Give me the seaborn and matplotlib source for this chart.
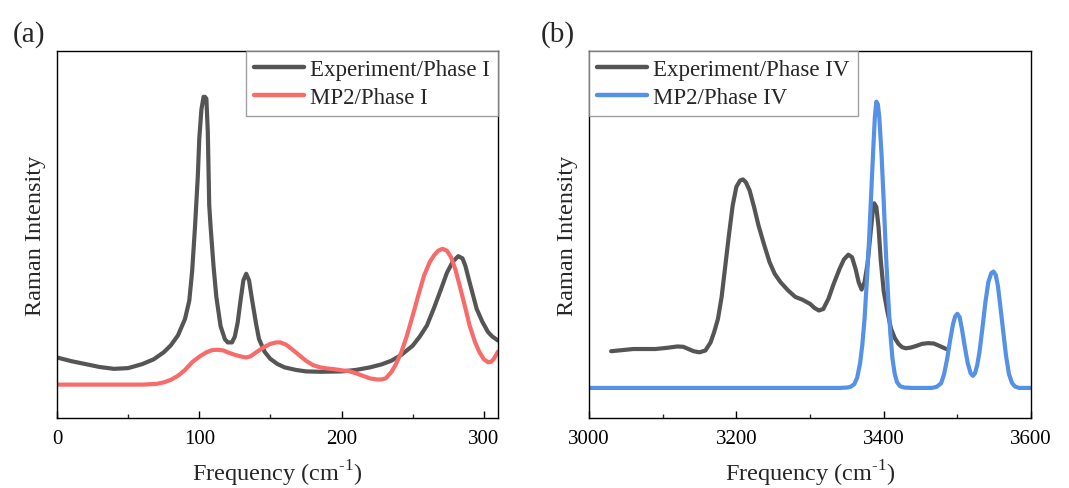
import numpy as np
import pandas as pd
import matplotlib
matplotlib.use("Agg")
import matplotlib.pyplot as plt
import seaborn as sns

# ---------------- data (arbitrary intensity units) -------------
# Panel (a): Phase I, low frequency
exp1_freq = [0, 10, 20, 30, 40, 50, 60, 68, 75, 80, 85, 90, 93, 95, 97, 99, 100, 101.5, 103, 104, 105,
             106, 107, 108, 110, 112, 115, 118, 120, 123, 125, 127, 129, 131, 133, 135, 137, 140, 142,
             146, 150, 155, 160, 168, 175, 185, 200, 210, 220, 228, 235, 242, 250, 255, 260, 265, 270,
             274, 278, 282, 285, 287, 290, 295, 299, 303, 306, 310]
exp1_int = [0.165, 0.155, 0.147, 0.139, 0.134, 0.136, 0.147, 0.160, 0.179, 0.198, 0.225, 0.27, 0.32,
            0.40, 0.52, 0.66, 0.76, 0.84, 0.875, 0.875, 0.87, 0.78, 0.58, 0.52, 0.415, 0.33, 0.25, 0.215,
            0.206, 0.206, 0.222, 0.26, 0.32, 0.375, 0.393, 0.375, 0.325, 0.255, 0.215, 0.18, 0.161, 0.147,
            0.138, 0.131, 0.127, 0.126, 0.127, 0.131, 0.138, 0.146, 0.156, 0.172, 0.197, 0.222, 0.252,
            0.30, 0.352, 0.395, 0.425, 0.441, 0.435, 0.415, 0.37, 0.297, 0.262, 0.234, 0.222, 0.211]

mp2_1_freq = [0, 20, 40, 60, 70, 75, 80, 85, 90, 95, 100, 105, 109, 113, 117, 120, 125, 130, 133, 136,
              140, 145, 150, 154, 157, 161, 165, 170, 175, 180, 185, 190, 195, 200, 205, 210, 215, 220,
              225, 228, 231, 235, 238, 242, 246, 250, 254, 258, 262, 265, 268, 271, 274, 277, 280, 283,
              287, 290, 294, 297, 300, 303, 305, 307, 310]
mp2_1_int = [0.091, 0.091, 0.091, 0.091, 0.093, 0.097, 0.104, 0.115, 0.131, 0.152, 0.167, 0.179, 0.185,
             0.186, 0.184, 0.179, 0.172, 0.167, 0.165, 0.168, 0.179, 0.192, 0.202, 0.206, 0.206, 0.2,
             0.188, 0.172, 0.156, 0.144, 0.138, 0.135, 0.133, 0.13, 0.128, 0.122, 0.115, 0.108, 0.105,
             0.105, 0.108, 0.125, 0.145, 0.179, 0.225, 0.279, 0.335, 0.388, 0.425, 0.443, 0.456, 0.461,
             0.456, 0.438, 0.405, 0.361, 0.3, 0.252, 0.205, 0.179, 0.16, 0.152, 0.153, 0.161, 0.181]

# Panel (b): Phase IV, high frequency
exp4_freq = [3030, 3045, 3060, 3075, 3090, 3105, 3120, 3128, 3135, 3142, 3150, 3158, 3165, 3170, 3175,
             3180, 3185, 3190, 3195, 3200, 3205, 3209, 3213, 3218, 3224, 3230, 3238, 3245, 3252, 3260,
             3270, 3280, 3290, 3300, 3306, 3312, 3318, 3325, 3332, 3340, 3346, 3352, 3357, 3362, 3366,
             3370, 3374, 3378, 3382, 3385, 3387, 3390, 3393, 3396, 3400, 3405, 3410, 3415, 3420, 3425,
             3430, 3437, 3445, 3452, 3460, 3468, 3475, 3485]
exp4_int = [0.182, 0.185, 0.188, 0.188, 0.188, 0.191, 0.195, 0.194, 0.188, 0.182, 0.179, 0.184, 0.206,
            0.235, 0.27, 0.33, 0.415, 0.50, 0.579, 0.63, 0.647, 0.65, 0.642, 0.62, 0.575, 0.525, 0.47,
            0.425, 0.393, 0.37, 0.348, 0.33, 0.322, 0.311, 0.3, 0.293, 0.297, 0.325, 0.365, 0.406, 0.432,
            0.445, 0.438, 0.405, 0.37, 0.35, 0.37, 0.42, 0.5, 0.56, 0.585, 0.575, 0.52, 0.43, 0.345,
            0.29, 0.243, 0.218, 0.202, 0.193, 0.19, 0.192, 0.197, 0.202, 0.204, 0.203, 0.197, 0.188]

mp2_4_freq = [3000, 3100, 3200, 3300, 3340, 3350, 3355, 3360, 3364, 3368, 3371, 3374, 3377, 3380, 3383,
              3386, 3388, 3390, 3392, 3394, 3397, 3400, 3403, 3406, 3409, 3412, 3415, 3418, 3422, 3428,
              3440, 3465, 3472, 3478, 3482, 3486, 3490, 3494, 3497, 3500, 3503, 3506, 3510, 3514, 3518,
              3521, 3524, 3527, 3530, 3534, 3538, 3542, 3546, 3549, 3552, 3555, 3558, 3562, 3566, 3570,
              3574, 3578, 3584, 3595, 3600]
mp2_4_int = [0.082, 0.082, 0.082, 0.082, 0.082, 0.083, 0.085, 0.092, 0.11, 0.15, 0.2, 0.27, 0.37, 0.48,
             0.61, 0.74, 0.82, 0.862, 0.855, 0.82, 0.72, 0.59, 0.45, 0.33, 0.23, 0.16, 0.12, 0.098,
             0.087, 0.083, 0.082, 0.082, 0.085, 0.095, 0.12, 0.16, 0.21, 0.255, 0.277, 0.284, 0.275,
             0.245, 0.195, 0.15, 0.122, 0.115, 0.122, 0.145, 0.18, 0.245, 0.315, 0.37, 0.395, 0.399,
             0.39, 0.36, 0.31, 0.24, 0.17, 0.12, 0.096, 0.086, 0.082, 0.082, 0.082]

labels_a = ["Experiment/Phase I", "MP2/Phase I"]
labels_b = ["Experiment/Phase IV", "MP2/Phase IV"]
xticks_a = [0, 100, 200, 300]
xticks_b = [3000, 3200, 3400, 3600]

GRAY = "#555555"
RED = "#f86b6b"
BLUE = "#5591e6"

# ---------------- style -------------
sns.set_style("ticks")
plt.rcParams["font.family"] = ["Liberation Serif", "DejaVu Serif"]
plt.rcParams["mathtext.fontset"] = "custom"
plt.rcParams["mathtext.rm"] = "Liberation Serif"

fig = plt.figure(figsize=(10.69, 4.89), dpi=100)
ax_a = fig.add_axes([0.0533, 0.1431, 0.4126, 0.7506])
ax_b = fig.add_axes([0.5510, 0.1431, 0.4135, 0.7506])

df_a = pd.concat([
    pd.DataFrame({"freq": exp1_freq, "int": exp1_int, "series": labels_a[0]}),
    pd.DataFrame({"freq": mp2_1_freq, "int": mp2_1_int, "series": labels_a[1]}),
])
df_b = pd.concat([
    pd.DataFrame({"freq": exp4_freq, "int": exp4_int, "series": labels_b[0]}),
    pd.DataFrame({"freq": mp2_4_freq, "int": mp2_4_int, "series": labels_b[1]}),
])

sns.lineplot(data=df_a, x="freq", y="int", hue="series", hue_order=labels_a,
             palette=[GRAY, RED], linewidth=3.0, ax=ax_a, sort=False, estimator=None)
sns.lineplot(data=df_b, x="freq", y="int", hue="series", hue_order=labels_b,
             palette=[GRAY, BLUE], linewidth=3.0, ax=ax_b, sort=False, estimator=None)

for ax, xt, xlim, loc, minor in [
    (ax_a, xticks_a, (0, 310), "upper right", [50, 150, 250]),
    (ax_b, xticks_b, (3000, 3600), "upper left", [3100, 3300, 3500]),
]:
    ax.set_xlim(*xlim)
    ax.set_ylim(0, 1)
    ax.set_xticks(xt)
    ax.set_xticks(minor, minor=True)
    ax.set_yticks([])
    ax.tick_params(axis="x", which="major", direction="in", length=5, width=1,
                   labelsize=15, pad=8, colors="black")
    ax.tick_params(axis="x", which="minor", direction="in", length=3, width=1)
    for s in ax.spines.values():
        s.set_visible(True)
        s.set_linewidth(1.0)
        s.set_color("black")
    ax.set_xlabel("Frequency (cm$^{\\mathregular{\u2010}1}$)", fontsize=17.5, labelpad=7)
    ax.set_ylabel("Raman Intensity", fontsize=17.5, labelpad=8)
    leg = ax.legend(loc=loc, fontsize=16.5, frameon=True, fancybox=False,
                    borderaxespad=0, handlelength=2.2, handletextpad=0.25,
                    borderpad=0.35, labelspacing=0.3)
    leg.get_frame().set_edgecolor("#888888")
    leg.get_frame().set_linewidth(1.0)
    for h in leg.get_lines():
        h.set_linewidth(3.2)

fig.text(0.012, 0.93, "(a)", fontsize=21, ha="left", va="center")
fig.text(0.506, 0.93, "(b)", fontsize=21, ha="left", va="center")

fig.savefig("out.png", dpi=100)
